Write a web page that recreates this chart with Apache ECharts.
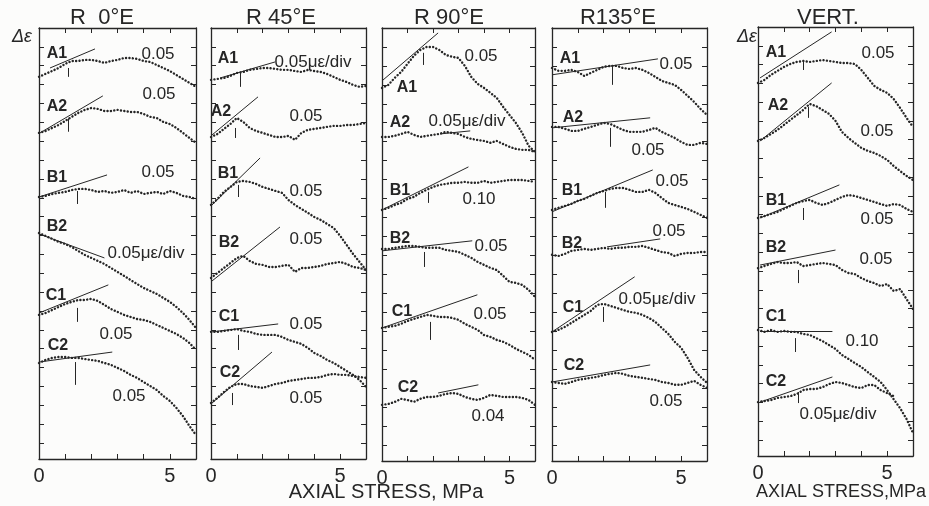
<!DOCTYPE html>
<html>
<head>
<meta charset="utf-8">
<script src="https://cdn.jsdelivr.net/npm/echarts@6/dist/echarts.min.js"></script>
<style>
  html, body { margin: 0; padding: 0; background: #fcfcfb; }
  #chart { width: 929px; height: 506px; }
</style>
</head>
<body>
<div id="chart"></div>
<script>
// Axial stress sampling (MPa) shared by every trace
const stress = [0, 0.25, 0.5, 0.75, 1, 1.25, 1.5, 1.75, 2, 2.25, 2.5, 2.75, 3,
                3.25, 3.5, 3.75, 4, 4.25, 4.5, 4.75, 5, 5.25, 5.5, 5.75, 6];

const panelTitles = ['R  0°E', 'R 45°E', 'R 90°E', 'R135°E', 'VERT.'];
const curveNames = ['A1', 'A2', 'B1', 'B2', 'C1', 'C2'];
const stressTicks = ['0', '5'];

// Strain traces in chart divisions (each trace sits on its own offset)
// --- R 0°E ---
const r0A1 = [19.41,19.57,19.72,19.88,20.10,20.25,20.25,20.31,20.31,20.25,20.15,20.25,20.31,20.41,20.41,20.36,20.25,20.20,20.04,19.88,19.72,19.51,19.30,19.09,18.88];
const r0A2 = [16.44,16.54,16.70,16.86,17.07,17.29,17.50,17.66,17.76,17.71,17.60,17.60,17.66,17.60,17.55,17.55,17.44,17.29,17.23,17.02,16.91,16.70,16.44,16.17,15.91];
const r0B1 = [13.04,13.10,13.20,13.26,13.31,13.41,13.47,13.47,13.41,13.31,13.36,13.26,13.31,13.41,13.26,13.36,13.20,13.26,13.31,13.20,13.36,13.26,13.10,13.04,12.94];
const r0B2 = [11.13,10.98,10.82,10.66,10.55,10.39,10.18,9.97,9.81,9.65,9.49,9.28,9.07,8.86,8.64,8.43,8.22,8.06,7.90,7.69,7.48,7.21,6.89,6.52,6.10];
const r0C1 = [6.79,6.89,7.05,7.21,7.37,7.48,7.58,7.58,7.64,7.53,7.32,7.10,6.95,6.79,6.68,6.57,6.52,6.42,6.26,6.10,5.94,5.78,5.57,5.30,4.93];
const r0C2 = [4.24,4.40,4.51,4.56,4.56,4.51,4.51,4.45,4.40,4.35,4.24,4.14,3.98,3.82,3.61,3.45,3.23,3.02,2.81,2.49,2.23,1.86,1.43,0.90,0.42];
// --- R 45°E ---
const r45A1 = [19.25,19.30,19.35,19.46,19.62,19.67,19.78,19.83,19.88,19.88,19.83,19.78,19.78,19.72,19.67,19.78,19.72,19.67,19.56,19.41,19.25,19.14,18.98,18.88,18.93];
const r45A2 = [16.22,16.38,16.65,16.91,17.23,17.02,16.70,16.54,16.44,16.33,16.22,16.22,16.28,16.07,16.44,16.60,16.65,16.70,16.76,16.81,16.81,16.86,16.86,16.91,16.97];
const r45B1 = [12.62,12.94,13.31,13.57,13.84,13.89,13.84,13.73,13.57,13.47,13.36,13.26,12.88,12.62,12.41,12.20,11.98,11.82,11.61,11.40,10.98,10.50,10.02,9.60,9.17];
const r45B2 = [8.75,9.01,9.28,9.54,9.81,9.92,9.65,9.49,9.44,9.33,9.33,9.39,9.44,9.07,9.28,9.28,9.33,9.39,9.49,9.54,9.60,9.49,9.33,9.28,9.17];
const r45C1 = [5.89,5.89,5.94,5.99,6.04,5.94,5.89,5.78,5.73,5.73,5.73,5.62,5.46,5.36,5.25,5.04,4.77,4.61,4.40,4.24,4.03,3.82,3.61,3.34,2.97];
const r45C2 = [2.12,2.39,2.70,2.97,3.13,3.13,3.02,2.97,2.92,3.02,3.13,3.18,3.29,3.34,3.39,3.45,3.45,3.50,3.61,3.66,3.61,3.61,3.55,3.50,3.45];
// --- R 90°E ---
const r90A1 = [18.84,19.00,19.37,19.68,20.11,20.53,20.84,21.00,21.00,20.84,20.58,20.48,20.42,20.00,19.42,19.05,18.84,18.58,18.31,17.84,17.41,16.99,16.46,15.78,15.46];
const r90A2 = [16.25,16.25,16.31,16.41,16.52,16.36,16.25,16.31,16.36,16.41,16.52,16.46,16.41,16.25,16.15,16.09,16.04,15.94,16.04,15.88,15.73,15.62,15.57,15.57,15.46];
const r90B1 = [12.40,12.51,12.66,12.77,12.98,13.09,13.30,13.46,13.61,13.72,13.77,13.83,13.83,13.88,13.83,13.83,13.93,13.83,13.88,13.93,13.98,13.98,13.98,13.93,13.88];
const r90B2 = [10.34,10.34,10.40,10.45,10.50,10.50,10.45,10.40,10.40,10.40,10.29,10.24,10.18,10.03,9.87,9.66,9.50,9.34,9.23,8.92,8.60,8.55,8.44,8.18,7.81];
const r90C1 = [6.17,6.23,6.28,6.39,6.54,6.65,6.75,6.86,6.81,6.75,6.75,6.70,6.60,6.39,6.23,6.07,5.80,5.70,5.54,5.44,5.28,5.07,4.91,4.75,4.49];
const r90C2 = [2.11,2.16,2.27,2.43,2.37,2.27,2.43,2.53,2.53,2.59,2.69,2.74,2.69,2.53,2.43,2.37,2.48,2.64,2.59,2.53,2.53,2.53,2.48,2.37,2.11];
// --- R135°E ---
const r135A1 = [19.89,19.74,19.74,19.79,19.68,19.47,19.63,19.79,19.95,20.00,20.00,19.89,19.84,19.89,19.79,19.63,19.42,19.21,19.10,19.00,18.73,18.42,18.10,17.73,17.41];
const r135A2 = [16.78,16.78,16.68,16.57,16.57,16.68,16.78,16.89,16.99,16.94,16.78,16.62,16.52,16.52,16.52,16.62,16.73,16.52,16.36,16.20,15.99,15.83,15.83,15.94,15.88];
const r135B1 = [12.40,12.51,12.61,12.72,12.88,12.98,13.14,13.30,13.40,13.51,13.56,13.56,13.46,13.35,13.35,13.46,13.30,13.03,12.77,12.66,12.56,12.45,12.30,12.14,11.98];
const r135B2 = [10.03,9.97,10.08,10.24,10.29,10.34,10.29,10.34,10.40,10.34,10.40,10.40,10.45,10.45,10.50,10.40,10.29,10.18,10.13,9.97,10.08,10.13,10.13,10.18,10.18];
const r135C1 = [5.96,6.07,6.23,6.44,6.65,6.86,7.07,7.39,7.44,7.34,7.23,7.12,7.02,6.97,6.86,6.70,6.49,6.17,5.86,5.44,5.12,4.59,3.96,3.59,3.27];
const r135C2 = [3.32,3.27,3.22,3.32,3.43,3.48,3.54,3.59,3.69,3.75,3.80,3.75,3.64,3.59,3.54,3.48,3.43,3.32,3.27,3.17,3.17,3.27,3.38,3.17,3.01];
// --- VERT. ---
const vA1 = [19.02,19.18,19.45,19.66,19.87,20.03,20.14,20.19,20.14,20.19,20.24,20.19,20.14,20.08,20.08,20.03,19.71,19.29,18.86,18.65,18.49,18.17,17.69,17.16,16.68];
const vA2 = [15.93,16.09,16.30,16.52,16.78,17.05,17.31,17.58,17.90,17.79,17.58,17.37,17.00,16.41,16.09,15.82,15.56,15.40,15.29,15.13,14.92,14.60,14.33,14.07,13.85];
const vB1 = [11.83,11.93,12.04,12.15,12.31,12.47,12.63,12.73,12.79,12.63,12.52,12.63,12.79,12.95,13.05,13.00,12.89,12.79,12.68,12.57,12.47,12.57,12.52,12.31,12.15];
const vB2 = [9.16,9.27,9.38,9.48,9.43,9.43,9.48,9.27,9.32,9.38,9.43,9.38,9.32,9.06,8.90,8.84,8.63,8.47,8.36,8.20,8.31,7.94,8.04,7.51,6.98];
const vC1 = [5.86,5.76,5.86,5.76,5.81,5.76,5.76,5.65,5.60,5.43,5.27,5.06,4.85,4.53,4.32,4.10,3.89,3.62,3.36,3.09,2.66,2.18,1.70,1.12,0.37];
const vC2 = [2.02,2.08,2.13,2.24,2.29,2.34,2.45,2.66,2.72,2.72,2.82,2.98,3.09,3.04,2.93,2.82,2.77,2.93,2.93,2.66,2.50,2.34,null,null,null];

// Initial-slope lines: [stress0, div0, stress1, div1]
const r0Tangents   = [[0.42,19.88,2.14,20.89],[0.04,16.44,2.44,18.40],[0,13.04,2.6,14.21],[0,11.08,2.5,9.81],[0,6.89,2.65,8.38],[0,4.29,2.8,4.82]];
const r45Tangents  = [[0.35,19.35,2.48,20.20],[0.04,16.33,1.82,18.35],[0.04,12.62,1.9,15.11],[0.04,8.59,2.67,11.45],[0.04,5.89,2.6,6.31],[0.04,2.12,2.36,4.82]];
const r90Tangents  = [[0,19.21,2.2,21.74],[2.28,16.41,3.46,16.57],[0,12.40,3.39,14.67],[0,10.24,3.54,10.77],[0,6.17,3.74,7.92],[2.2,2.74,3.78,3.17]];
const r135Tangents = [[0,19.53,4.1,20.37],[0,16.73,3.8,17.26],[0,12.30,3.9,14.51],[2.13,10.45,4.19,10.87],[0,5.96,3.2,8.87],[0,3.32,3.8,4.22]];
const vTangents    = [[0.08,19.29,2.85,21.74],[0.08,15.93,2.85,19.02],[0.08,11.83,3.15,13.59],[0.08,9.32,3.0,10.12],[0.08,5.81,2.88,5.81],[0.08,2.02,2.88,3.36]];

// Departure marks: [stress, div top, div bottom]
const r0Marks   = [[1.1,19.88,19.41],[1.1,17.2,16.5],[1.45,13.36,12.67],null,[1.45,7.16,6.42],[1.38,4.29,3.08]];
const r45Marks  = [[1.12,19.62,18.88],[0.93,16.70,16.17],[1.05,13.68,13.04],null,[1.05,5.73,4.93],[0.81,2.65,2.01]];
const r90Marks  = [[1.61,20.69,20.05],null,[1.81,13.35,12.77],[1.65,10.18,9.39],[1.89,6.49,5.54],null];
const r135Marks = [[2.33,19.95,19.00],[2.25,16.73,15.73],[2.05,13.35,12.51],null,[1.98,7.28,6.49],null];
const vMarks    = [[1.77,20.24,19.71],[1.96,17.74,17.16],[1.77,12.36,11.72],[1.54,9.06,8.36],[1.46,5.43,4.69],[1.54,2.56,1.97]];

// Vertical scale of each trace
const r0Scales   = ['0.05', '0.05', '0.05', '0.05με/div', '0.05', '0.05'];
const r45Scales  = ['0.05με/div', '0.05', '0.05', '0.05', '0.05', '0.05'];
const r90Scales  = ['0.05', '0.05με/div', '0.10', '0.05', '0.05', '0.04'];
const r135Scales = ['0.05', '0.05', '0.05', '0.05', '0.05με/div', '0.05'];
const vScales    = ['0.05', '0.05', '0.05', '0.05', '0.10', '0.05με/div'];

const traces   = [[r0A1,r0A2,r0B1,r0B2,r0C1,r0C2],[r45A1,r45A2,r45B1,r45B2,r45C1,r45C2],
                  [r90A1,r90A2,r90B1,r90B2,r90C1,r90C2],[r135A1,r135A2,r135B1,r135B2,r135C1,r135C2],
                  [vA1,vA2,vB1,vB2,vC1,vC2]];
const tangents = [r0Tangents, r45Tangents, r90Tangents, r135Tangents, vTangents];
const marks    = [r0Marks, r45Marks, r90Marks, r135Marks, vMarks];
const scales   = [r0Scales, r45Scales, r90Scales, r135Scales, vScales];

// Layout of the five frames and their annotations (pixels)
const panels = [
  { left: 39,  top: 28, width: 157, height: 431, titleX: 102,
    names: [[57,54],[57,107],[57,178],[57,227],[56,296],[58,346]],
    notes: [[158,54],[159,94],[158,172],[146,253],[116,334],[129,396]] },
  { left: 211, top: 28, width: 155, height: 431, titleX: 281,
    names: [[228,59],[221,112],[228,174],[229,243],[229,317],[230,373]],
    notes: [[313,62],[306,116],[306,191],[306,239],[306,324],[306,398]] },
  { left: 382, top: 28, width: 153, height: 433, titleX: 449,
    names: [[407,88],[400,123],[400,191],[400,239],[402,312],[408,388]],
    notes: [[481,56],[467,121],[479,199],[491,246],[490,314],[488,416]] },
  { left: 552, top: 28, width: 155, height: 433, titleX: 618,
    names: [[570,59],[573,118],[572,191],[572,244],[573,308],[574,366]],
    notes: [[676,64],[648,150],[672,181],[669,231],[657,299],[666,401]] },
  { left: 758, top: 27, width: 155, height: 429, titleX: 828,
    names: [[776,53],[778,106],[776,201],[776,248],[776,317],[776,382]],
    notes: [[878,53],[877,131],[877,219],[876,259],[862,341],[838,414]] }
];

const ink = '#262626';
const face = '"Liberation Sans", Arial, Helvetica, sans-serif';
const yMin = -0.85, yMax = 22;
const divTicks = Array.from({ length: 22 }, (_, k) => k);

const grids = [], xAxes = [], yAxes = [], series = [], graphics = [];

function text(str, x, y, font, extra) {
  graphics.push(Object.assign({
    type: 'text', silent: true,
    style: { text: str, x: x, y: y, font: font, fill: ink,
             textAlign: 'center', textVerticalAlign: 'middle',
             align: 'center', verticalAlign: 'middle' }
  }, extra || {}));
}

panels.forEach((p, i) => {
  grids.push({ left: p.left, top: p.top, width: p.width, height: p.height, show: false });

  const axisLine = { show: true, onZero: false, lineStyle: { color: ink, width: 1.3 } };
  const xBase = {
    gridIndex: i, type: 'value', min: 0, max: 6, interval: 1,
    axisLine: axisLine,
    axisTick: { show: true, inside: true, length: 5, lineStyle: { color: ink, width: 1 } },
    splitLine: { show: false }
  };
  xAxes.push(Object.assign({}, xBase, {
    position: 'bottom',
    axisLabel: { show: true, color: ink, fontSize: 20, fontFamily: face, margin: 7,
                 formatter: v => stressTicks.indexOf(String(v)) >= 0 ? String(v) : '' }
  }));
  xAxes.push(Object.assign({}, xBase, { position: 'top', axisLabel: { show: false } }));

  const yBase = {
    gridIndex: i, type: 'value', min: yMin, max: yMax,
    axisLine: axisLine,
    axisTick: { show: true, inside: true, length: 5, customValues: divTicks,
                lineStyle: { color: ink, width: 1 } },
    axisLabel: { show: false },
    splitLine: { show: false }
  };
  yAxes.push(Object.assign({}, yBase, { position: 'left' }));
  yAxes.push(Object.assign({}, yBase, { position: 'right' }));

  traces[i].forEach((vals, c) => {
    series.push({
      type: 'line', name: panelTitles[i] + ' ' + curveNames[c],
      xAxisIndex: 2 * i, yAxisIndex: 2 * i,
      data: stress.map((m, k) => [m, vals[k]]),
      showSymbol: false, connectNulls: false, silent: true, animation: false,
      lineStyle: { color: ink, width: 2.4, type: [0.1, 3.3], cap: 'round' }
    });
  });

  const segs = tangents[i].map(t => ({ coords: [[t[0], t[1]], [t[2], t[3]]] }));
  marks[i].forEach(mk => { if (mk) segs.push({ coords: [[mk[0], mk[1]], [mk[0], mk[2]]] }); });
  series.push({
    type: 'lines', coordinateSystem: 'cartesian2d',
    xAxisIndex: 2 * i, yAxisIndex: 2 * i,
    data: segs, silent: true, animation: false,
    lineStyle: { color: ink, width: 1, opacity: 1 }
  });

  text(panelTitles[i], p.titleX, 18, '22px ' + face);
  p.names.forEach((pos, c) => text(curveNames[c], pos[0], pos[1], 'bold 16px ' + face));
  p.notes.forEach((pos, c) => text(scales[i][c], pos[0], pos[1], '17px ' + face));
});

text('Δε', 22, 37, 'italic 18px ' + face);
text('Δε', 747, 37, 'italic 18px ' + face);
text('AXIAL STRESS, MPa', 386, 492, '20px ' + face);
text('AXIAL STRESS,MPa', 841, 492, '18px ' + face);

const chart = echarts.init(document.getElementById('chart'), null, { renderer: 'canvas' });
chart.setOption({
  backgroundColor: '#fcfcfb',
  animation: false,
  grid: grids, xAxis: xAxes, yAxis: yAxes,
  series: series,
  graphic: graphics
});
</script>
</body>
</html>
